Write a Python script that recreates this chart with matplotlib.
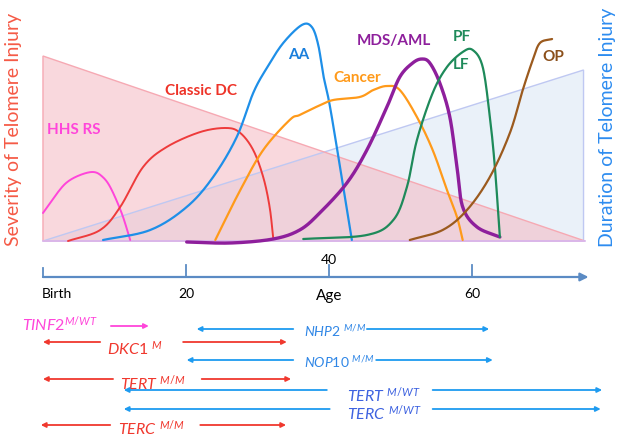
import numpy as np
import matplotlib
matplotlib.use("Agg")
import matplotlib.pyplot as plt
from matplotlib.patches import Polygon

plt.rcParams['font.family'] = ['Lato', 'DejaVu Sans']
plt.rcParams['mathtext.fontset'] = 'custom'
plt.rcParams['mathtext.it'] = 'Lato:italic'
plt.rcParams['mathtext.rm'] = 'Lato'

# ---------------- data (age in years, severity in arbitrary units) ----------------
hhs_age = [0, 2, 3.4, 5.2, 7.0, 8.2, 9.4, 11.0, 12.2]
hhs_sev = [14, 24, 29.5, 33, 34.5, 32.5, 27, 14, 0.5]

dc_age = [3.5, 8.0, 10.8, 14.0, 17.3, 22.0, 25.7, 27.6, 29.4, 30.8, 31.7, 32.2]
dc_sev = [0, 5.5, 17, 37, 47, 54.5, 56.5, 54, 45.5, 32, 17, 1.5]

aa_age = [8.4, 15.0, 20.1, 23.8, 27.1, 29.4, 31.3, 33.6, 36.2, 37.6, 38.5, 39.2, 40.1, 41.5, 42.4, 43.2]
aa_sev = [0.5, 5.5, 17, 32, 52, 74, 86.5, 99, 108, 107, 98, 83, 68, 38, 18, 0.5]

cancer_age = [24.1, 27.6, 30.8, 34.5, 35.9, 38.5, 40.6, 44.3, 46.2, 48.1, 49.9, 52.3, 54.5, 56.5, 57.9, 58.7]
cancer_sev = [0.5, 25.5, 45.5, 60.5, 63, 67.5, 70.5, 72, 75.5, 77.5, 75.5, 62, 45.5, 25.5, 12, 0.5]

mds_age = [20.1, 26.2, 32.2, 35.9, 38.7, 42.5, 45.3, 48.1, 49.9, 51.7, 53.0, 54.1, 55.5, 56.9, 57.9, 58.7, 60.7, 63.9]
mds_sev = [-0.5, -1.0, 1, 5.5, 14, 29, 45.5, 67, 82, 89, 91, 89, 79, 62, 37, 17, 7, 2]

pf_age = [36.4, 45.3, 49.0, 50.9, 52.3, 54.5, 56.5, 58.7, 60.1, 61.5, 62.5, 63.2, 63.9]
pf_sev = [1, 3, 10.5, 27, 50.5, 74, 87, 94.5, 95.5, 87, 62, 37, 2]

op_age = [51.3, 55.9, 59.3, 62.5, 65.3, 67.1, 68.5, 69.5, 71.2]
op_sev = [0.5, 5.5, 15.5, 32, 54, 75.5, 90.5, 99, 101]

severity_tri_age = [0, 0, 75.8]
severity_tri_val = [92.5, 0, 0]
duration_tri_age = [0, 75.6, 75.6]
duration_tri_val = [0, 85.5, 0]

age_ticks = [0, 20, 40, 60]
age_tick_labels = ['Birth', '20', '40', '60']

# gene rows: label, (left arrow tail, head), (right arrow tail, head)
genes = [
    (r'$\mathit{TINF2}^{\mathit{M/WT}}$', None, (9.5, 14.8)),
    (r'$\mathit{DKC1}\ ^{\mathit{M}}$', (8.0, 0.0), (19.6, 34.1)),
    (r'$\mathit{NHP2}\ ^{\mathit{M/M}}$', (35.0, 21.5), (45.3, 62.4)),
    (r'$\mathit{NOP10}\ ^{\mathit{M/M}}$', (35.0, 20.1), (46.6, 62.9)),
    (r'$\mathit{TERT}\ ^{\mathit{M/M}}$', (9.8, 0.0), (22.2, 34.7)),
    (r'$\mathit{TERT}\ ^{\mathit{M/WT}}$', (39.7, 11.3), (54.5, 78.2)),
    (r'$\mathit{TERC}\ ^{\mathit{M/WT}}$', (40.1, 11.3), (54.5, 78.0)),
    (r'$\mathit{TERC}\ ^{\mathit{M/M}}$', (9.4, -0.3), (22.0, 34.0)),
]

# ---------------- layout / style ----------------
gene_text_pos = [(-2.9, -41.5), (8.9, -54), (36.5, -45), (36.5, -60.5),
                 (10.8, -71), (42.5, -77), (42.5, -86), (10.5, -93.5)]
gene_text_size = [11.5, 11.5, 10, 10, 11.5, 11.5, 11.5, 11.5]
gene_arrow_y = [-42.5, -50.5, -44, -59.5, -69, -74.5, -84, -92]
gene_text_col = ['#FF45DA', '#F0382E', '#2F86E6', '#2F86E6', '#F0382E', '#3D62E0', '#3D62E0', '#F0382E']
gene_arrow_col = ['#FF45DA', '#F0382E', '#1E9BF0', '#1E9BF0', '#F0382E', '#1E9BF0', '#1E9BF0', '#F0382E']


def smooth(xs, ys, n=24):
    p = np.column_stack([xs, ys]).astype(float)
    p = np.vstack([2 * p[0] - p[1], p, 2 * p[-1] - p[-2]])
    out = []
    t = np.linspace(0, 1, n, endpoint=False)[:, None]
    for i in range(1, len(p) - 2):
        p0, p1, p2, p3 = p[i - 1], p[i], p[i + 1], p[i + 2]
        seg = 0.5 * ((2 * p1) + (-p0 + p2) * t + (2 * p0 - 5 * p1 + 4 * p2 - p3) * t ** 2
                     + (-p0 + 3 * p1 - 3 * p2 + p3) * t ** 3)
        out.append(seg)
    out.append(p[-2][None, :])
    out = np.vstack(out)
    return out[:, 0], out[:, 1]


fig = plt.figure(figsize=(6.24, 4.4), dpi=100)
ax = fig.add_axes([0, 0, 1, 1])
ax.set_xlim(-6.01, 81.26)
ax.set_ylim(-99.5, 120.5)
ax.axis('off')

# triangles
ax.add_patch(Polygon(np.column_stack([duration_tri_age, duration_tri_val]), closed=True,
                     facecolor='#DCE9F6', alpha=0.6, edgecolor='none', zorder=1))
ax.add_patch(Polygon(np.column_stack([severity_tri_age, severity_tri_val]), closed=True,
                     facecolor='#F5B3BD', alpha=0.5, edgecolor='none', zorder=1))
ax.add_patch(Polygon(np.column_stack([duration_tri_age, duration_tri_val]), closed=True,
                     facecolor='none', edgecolor='#BFC8F2', lw=1.0, zorder=2))
ax.add_patch(Polygon(np.column_stack([severity_tri_age, severity_tri_val]), closed=True,
                     facecolor='none', edgecolor='#F6A9B3', lw=1.0, zorder=2))
ax.plot([0, 75.8], [0, 0], color='#D8B8F0', lw=1.2, zorder=2)

curves = [
    (hhs_age, hhs_sev, '#FF45DA', 1.4),
    (dc_age, dc_sev, '#EE3B3B', 1.4),
    (aa_age, aa_sev, '#1E8FE8', 1.6),
    (cancer_age, cancer_sev, '#FF9A1A', 1.6),
    (mds_age, mds_sev, '#8E1F9C', 2.4),
    (pf_age, pf_sev, '#1E8A5A', 1.6),
    (op_age, op_sev, '#9B5A1E', 1.6),
]
for a, s, c, lw in curves:
    x, y = smooth(a, s)
    ax.plot(x, y, color=c, lw=lw, zorder=3, solid_capstyle='round')

labels = [
    ('HHS RS', 0.56, 55.5, '#FF45DA'),
    ('Classic DC', 17.1, 75, '#EE3328'),
    ('AA', 34.3, 93, '#1A7FDC'),
    ('MDS/AML', 43.9, 100, '#8E1F9C'),
    ('PF', 57.3, 102, '#1E8A5A'),
    ('LF', 57.3, 88, '#1E8A5A'),
    ('Cancer', 40.6, 81.5, '#FF9A1A'),
    ('OP', 69.9, 92, '#8B4F1A'),
]
for t, x, y, c in labels:
    ax.text(x, y, t, color=c, fontsize=11, fontweight='bold', ha='left', va='center', zorder=4)

fig.text(0.022, 0.705, 'Severity of Telomere Injury', rotation=90, color='#F55A46',
         fontsize=14, ha='center', va='center')
fig.text(0.973, 0.71, 'Duration of Telomere Injury', rotation=90, color='#2D8CF0',
         fontsize=14, ha='center', va='center')

# age axis
axis_col = '#5B8BC4'
ax.annotate('', xy=(76.3, -18), xytext=(0, -18),
            arrowprops=dict(arrowstyle='-|>', color=axis_col, lw=1.6, mutation_scale=12,
                            shrinkA=0, shrinkB=0))
for a, lab in zip(age_ticks, age_tick_labels):
    ax.plot([a, a], [-18, -12 if a else -13.5], color=axis_col, lw=1.3)
    if lab == '40':
        ax.text(a, -9.5, lab, fontsize=10, ha='center', va='center', color='black')
    elif lab == 'Birth':
        ax.text(a - 0.2, -26.5, lab, fontsize=10, ha='left', va='center', color='black')
    else:
        ax.text(a, -26.5, lab, fontsize=10, ha='center', va='center', color='black')
ax.text(40, -27.5, 'Age', fontsize=11, ha='center', va='center', color='black')

# gene rows
for (lab, left, right), (tx, ty), fs, ay, tc, ac in zip(genes, gene_text_pos, gene_text_size,
                                                        gene_arrow_y, gene_text_col, gene_arrow_col):
    ax.text(tx, ty, lab, color=tc, fontsize=fs, ha='left', va='center')
    for seg in (left, right):
        if seg is None:
            continue
        ax.annotate('', xy=(seg[1], ay), xytext=(seg[0], ay),
                    arrowprops=dict(arrowstyle='-|>', color=ac, lw=1.3, mutation_scale=7,
                                    shrinkA=0, shrinkB=0))

fig.savefig('out.png', dpi=100, facecolor='white')
